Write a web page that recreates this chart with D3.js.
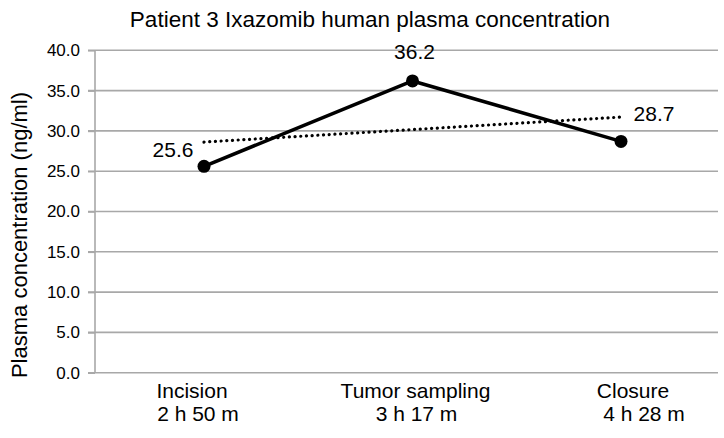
<!DOCTYPE html>
<html><head><meta charset="utf-8">
<script src="https://cdn.jsdelivr.net/npm/d3@7"></script>
<style>body{margin:0;background:#fff}svg{display:block}</style>
</head><body>
<svg id="c" width="724" height="438"></svg>
<script>
const categories = ["Incision", "Tumor sampling", "Closure"];
const times = ["2 h 50 m", "3 h 17 m", "4 h 28 m"];
const values = [25.6, 36.2, 28.7];
const yTicks = [0, 5, 10, 15, 20, 25, 30, 35, 40];
const title = "Patient 3 Ixazomib human plasma concentration";
const yTitle = "Plasma concentration (ng/ml)";

const svg = d3.select("#c");
const sans = "'Liberation Sans',Arial,sans-serif";
const plot = {left: 95, right: 718, top: 50.3, bottom: 372.7};

const x = d3.scalePoint().domain(categories).range([204, 621]);
const y = d3.scaleLinear().domain([0, 40]).range([plot.bottom, plot.top]);

// gridlines
svg.append("g").selectAll("line").data(yTicks).join("line")
  .attr("x1", plot.left - 7).attr("x2", plot.right)
  .attr("y1", d => y(d)).attr("y2", d => y(d))
  .attr("stroke", "#a8a8a8").attr("stroke-width", 1.6);

// y axis
const ya = svg.append("g").attr("transform", `translate(${plot.left},0)`)
  .call(d3.axisLeft(y).tickValues(yTicks).tickFormat(d3.format(".1f")).tickSize(7).tickPadding(8));
ya.select(".domain").attr("stroke", "#a8a8a8").attr("stroke-width", 1.6).attr("d", `M0,${y(0)}V${y(40)}`);
ya.selectAll(".tick line").attr("stroke", "#a8a8a8").attr("stroke-width", 1.6);
ya.selectAll("text").attr("font-family", sans).attr("font-size", 17).attr("fill", "#000");

// category labels (two lines)
const off1 = [-12, 3, 12], off2 = [-6, 4, 23];
const cg = svg.append("g").attr("font-family", sans).attr("font-size", 21).attr("fill", "#000").attr("text-anchor", "middle");
cg.selectAll("text.c1").data(categories).join("text").attr("class", "c1")
  .attr("x", (d, i) => x(d) + off1[i]).attr("y", 398).text(d => d);
cg.selectAll("text.c2").data(categories).join("text").attr("class", "c2")
  .attr("x", (d, i) => x(d) + off2[i]).attr("y", 421).text((d, i) => times[i]);

// linear trend line (least squares on category index, as in a spreadsheet)
const idx = values.map((_, i) => i + 1);
const mx = d3.mean(idx), my = d3.mean(values);
const slope = d3.sum(idx.map((d, i) => (d - mx) * (values[i] - my))) / d3.sum(idx.map(d => (d - mx) ** 2));
const icpt = my - slope * mx;
const trend = idx.map(d => icpt + slope * d);
svg.append("path").datum(trend)
  .attr("d", d3.line().x((d, i) => x(categories[i])).y(d => y(d)))
  .attr("fill", "none").attr("stroke", "#000").attr("stroke-width", 3.2)
  .attr("stroke-dasharray", "0.1,5.6").attr("stroke-linecap", "round");

// data line + markers
svg.append("path").datum(values)
  .attr("d", d3.line().x((d, i) => x(categories[i])).y(d => y(d)))
  .attr("fill", "none").attr("stroke", "#000").attr("stroke-width", 3.6).attr("stroke-linejoin", "round");
svg.append("g").selectAll("circle").data(values).join("circle")
  .attr("cx", (d, i) => x(categories[i])).attr("cy", d => y(d)).attr("r", 6.5).attr("fill", "#000");

// data labels
const lblOff = [[-31, -9.5], [2, -21.5], [33, -20.5]];
svg.append("g").selectAll("text").data(values).join("text")
  .attr("x", (d, i) => x(categories[i]) + lblOff[i][0])
  .attr("y", (d, i) => y(d) + lblOff[i][1])
  .attr("text-anchor", "middle").attr("font-family", sans).attr("font-size", 21).attr("fill", "#000")
  .text(d => d3.format(".1f")(d));

// title
svg.append("text").attr("x", 370).attr("y", 26.5).attr("text-anchor", "middle")
  .attr("font-family", sans).attr("font-size", 22.5).attr("fill", "#000").text(title);

// y-axis title
svg.append("text").attr("transform", `translate(27,235) rotate(-90)`)
  .attr("text-anchor", "middle").attr("font-family", sans).attr("font-size", 22).attr("fill", "#000").text(yTitle);
</script>
</body></html>
